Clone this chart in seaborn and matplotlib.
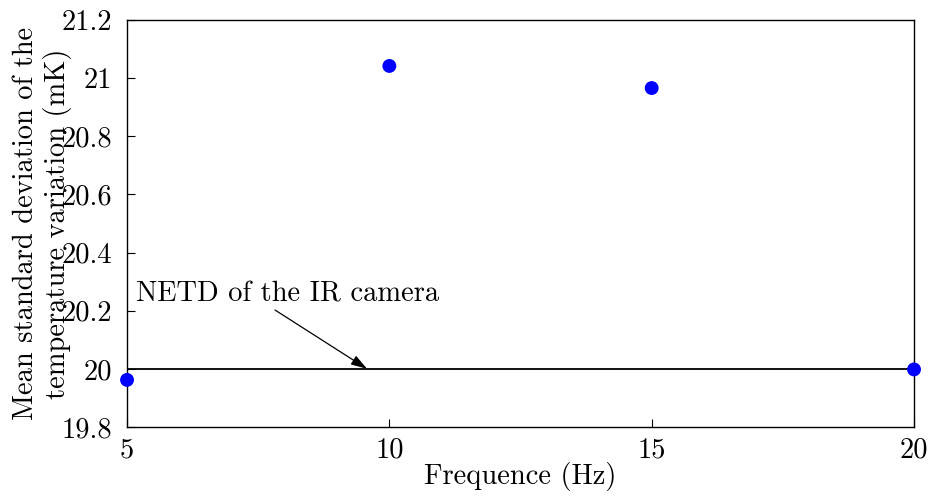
import matplotlib
matplotlib.use("Agg")
import matplotlib.pyplot as plt
import seaborn as sns
import pandas as pd

# Measured noise level per acquisition frequency
frequencies = [5, 10, 15, 20]
mean_std_mk = [19.962, 21.042, 20.966, 19.998]
netd_mk = 20.0
x_ticks = [5, 10, 15, 20]
y_ticks = [19.8, 20.0, 20.2, 20.4, 20.6, 20.8, 21.0, 21.2]
y_tick_labels = ["19.8", "20", "20.2", "20.4", "20.6", "20.8", "21", "21.2"]

sns.set_theme(style="ticks")
plt.rcParams["font.family"] = ["cmr10", "DejaVu Serif"]
plt.rcParams["mathtext.fontset"] = "cm"
plt.rcParams["axes.formatter.use_mathtext"] = True
plt.rcParams["axes.unicode_minus"] = False
for key in ("text.color", "axes.labelcolor", "xtick.color", "ytick.color",
            "axes.edgecolor"):
    plt.rcParams[key] = "black"

fs = 20.5
fig = plt.figure(figsize=(9.32, 4.98), dpi=100)
ax = fig.add_axes([0.1363, 0.1426, 0.8444, 0.8172])

df = pd.DataFrame({"freq": frequencies, "std": mean_std_mk})

ax.axhline(netd_mk, color="black", lw=1.3, zorder=2)
sns.scatterplot(data=df, x="freq", y="std", ax=ax, color="blue", s=100,
                edgecolor="none", clip_on=False, zorder=3, legend=False)

ax.set_xlim(5, 20)
ax.set_ylim(19.8, 21.2)
ax.set_xticks(x_ticks)
ax.set_xticklabels([str(t) for t in x_ticks], fontsize=fs)
ax.set_yticks(y_ticks)
ax.set_yticklabels(y_tick_labels, fontsize=fs)
ax.tick_params(direction="in", length=6, width=0.8, top=False, right=False,
               colors="black")
ax.tick_params(axis="x", pad=7)
ax.tick_params(axis="y", pad=10.5)

for s in ax.spines.values():
    s.set_linewidth(1.0)
    s.set_color("black")

ax.set_xlabel("Frequence (Hz)", fontsize=fs)
ax.xaxis.set_label_coords(0.5, -0.086)
ax.set_ylabel("Mean standard deviation of the\ntemperature variation (mK)",
              fontsize=fs, linespacing=1.2)
ax.yaxis.set_label_coords(-0.07, 0.5)

ax.text(5.17, 20.23, "NETD of the IR camera", fontsize=fs,
        ha="left", va="baseline")
ax.annotate("", xy=(9.575, netd_mk), xytext=(7.82, 20.2025),
            arrowprops=dict(arrowstyle="-|>,head_length=0.7,head_width=0.22",
                            color="black", lw=0.9, shrinkA=0, shrinkB=0,
                            mutation_scale=14))

fig.savefig("out.png", dpi=100)
